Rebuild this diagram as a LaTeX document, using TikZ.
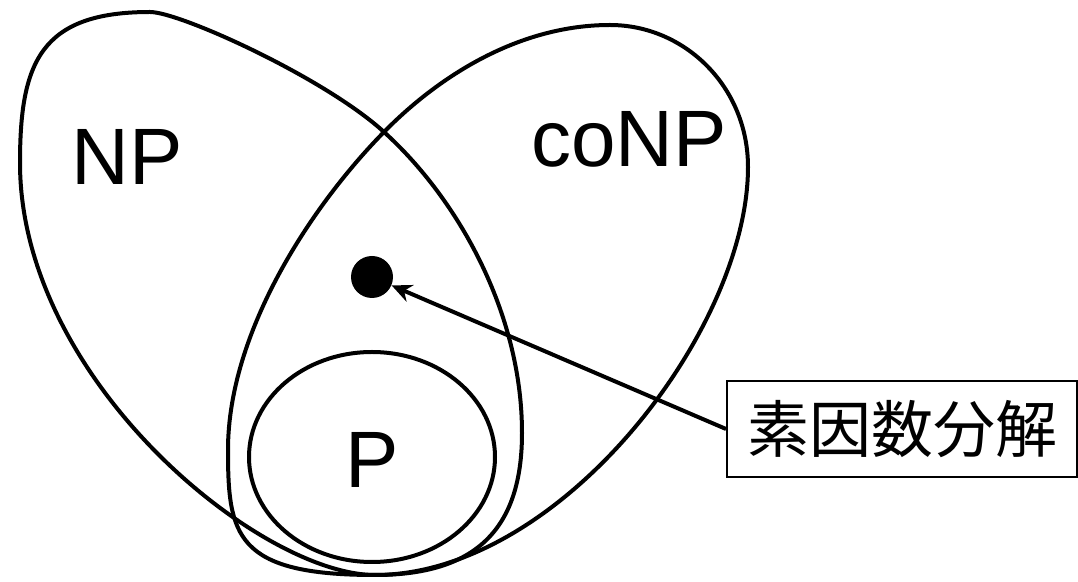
\documentclass[tikz,border=0pt]{standalone}
\usepackage{fontspec}
\setsansfont{Liberation Sans}
\newfontfamily\jpfont{Noto Sans CJK JP}
\usetikzlibrary{arrows.meta,positioning}

\begin{document}
\begin{tikzpicture}[
    x=0.5pt, y=-0.5pt,
    cls/.style={line width=2pt},
    lbl/.style={font=\sffamily\fontsize{40}{48}\selectfont, inner sep=0pt, anchor=base},
    dot/.style={circle, fill=black, minimum size=21pt, inner sep=0pt},
    box/.style={draw, line width=1pt, minimum width=175pt, minimum height=48pt, inner sep=0pt, font=\jpfont\fontsize{31}{36}\selectfont},
    arr/.style={-{Stealth[length=10pt, width=9pt]}, line width=2pt}
]
\useasboundingbox (0,0) rectangle (1078,582);

% NP
\draw[cls] (150,12) .. controls (180,12) and (325,78) .. (384,132)
  .. controls (458,199) and (522,313) .. (522,433)
  .. controls (522,530) and (475,575) .. (375,575)
  .. controls (260,575) and (20,380) .. (20,163)
  .. controls (20,63) and (40,12) .. cycle;
% coNP
\draw[cls] (610,25) .. controls (685,25) and (748,87) .. (748,167)
  .. controls (748,330) and (560,575) .. (375,575)
  .. controls (235,575) and (228,535) .. (228,450)
  .. controls (228,330) and (314,203) .. (384,132)
  .. controls (440,75) and (520,25) .. cycle;
% P
\draw[cls] (372,457) ellipse [x radius=123, y radius=105];

\node[lbl] (np) at (127,185) {NP};
\node[lbl] (conp) at (629,167) {coNP};
\node[lbl] (p) at (372,488) {P};

\node[dot] (fact) at (372,277) {};
\node[box] (factbox) at (902,429) {素因数分解};
\draw[arr] (factbox.west) -- (fact);
\end{tikzpicture}
\end{document}
